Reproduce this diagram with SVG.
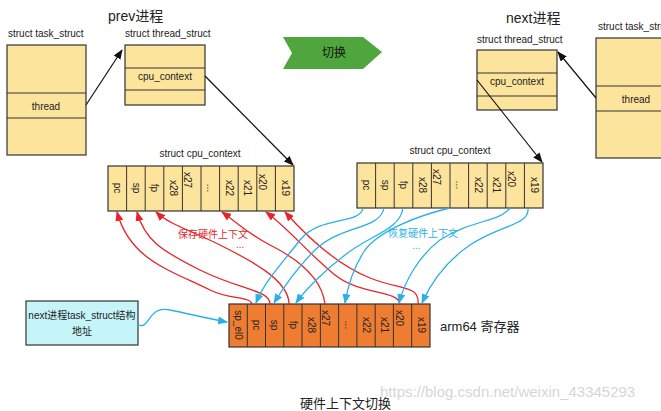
<svg xmlns="http://www.w3.org/2000/svg" width="661" height="411" viewBox="0 0 661 411">
<style>
text{font-family:"Liberation Sans","Noto Sans CJK SC",sans-serif;fill:#222}
.s{font-size:10px}
.box{fill:#fde49c;stroke:#333;stroke-width:1.2}
.reg{fill:#ee7d31;stroke:#333;stroke-width:1.2}
.blk{fill:none;stroke:#111;stroke-width:1.2}
.red{fill:none;stroke:#e8242a;stroke-width:1.3}
.blu{fill:none;stroke:#2ab0e6;stroke-width:1.3}
.v{font-size:10px}
</style>
<defs>
<marker id="ab" markerWidth="10" markerHeight="8" refX="9" refY="4" orient="auto" markerUnits="userSpaceOnUse"><path d="M0,0L10,4L0,8z" fill="#111"/></marker>
<marker id="ar" markerWidth="10" markerHeight="8" refX="9" refY="4" orient="auto" markerUnits="userSpaceOnUse"><path d="M0,0L10,4L0,8z" fill="#e8242a"/></marker>
<marker id="au" markerWidth="10" markerHeight="8" refX="9" refY="4" orient="auto" markerUnits="userSpaceOnUse"><path d="M0,0L10,4L0,8z" fill="#2ab0e6"/></marker>
</defs>
<rect width="661" height="411" fill="#fff"/>
<text x="108" y="21" font-size="14">prev进程</text>
<text x="506" y="23" font-size="14">next进程</text>
<g id="prev_task">
<text x="8" y="37" class="s">struct task_struct</text>
<rect x="7" y="45" width="79" height="110" class="box"/>
<line x1="7" y1="93" x2="86" y2="93" stroke="#333"/><line x1="7" y1="118" x2="86" y2="118" stroke="#333"/>
<text x="46" y="110" class="s" text-anchor="middle">thread</text>
</g>
<g id="prev_thread">
<text x="125" y="37" class="s">struct thread_struct</text>
<rect x="125" y="45" width="80" height="60" class="box"/>
<line x1="125" y1="68" x2="205" y2="68" stroke="#333"/><line x1="125" y1="90" x2="205" y2="90" stroke="#333"/>
<text x="165" y="80" class="s" text-anchor="middle">cpu_context</text>
</g>
<g id="switch">
<path d="M283,37H363L382,52L363,69H283L292,53z" fill="#4ea63d"/>
<text x="334" y="57" font-size="12" text-anchor="middle" style="fill:#111">切换</text>
</g>
<g id="next_thread">
<text x="477" y="43" class="s">struct thread_struct</text>
<rect x="477" y="50" width="80" height="60" class="box"/>
<line x1="477" y1="73" x2="557" y2="73" stroke="#333"/><line x1="477" y1="96" x2="557" y2="96" stroke="#333"/>
<text x="517" y="85" class="s" text-anchor="middle">cpu_context</text>
</g>
<g id="next_task">
<text x="598" y="30" class="s">struct task_struct</text>
<rect x="596" y="38" width="70" height="120" class="box"/>
<line x1="596" y1="86" x2="666" y2="86" stroke="#333"/><line x1="596" y1="111" x2="666" y2="111" stroke="#333"/>
<text x="636" y="103" class="s" text-anchor="middle">thread</text>
</g>
<g id="prev_ctx">
<text x="200" y="157" class="s" text-anchor="middle">struct cpu_context</text>
<rect x="108" y="166" width="186" height="45" class="box"/>
<g stroke="#333"><line x1="126.6" y1="166" x2="126.6" y2="211"/><line x1="145.2" y1="166" x2="145.2" y2="211"/><line x1="163.8" y1="166" x2="163.8" y2="211"/><line x1="182.4" y1="166" x2="182.4" y2="211"/><line x1="201" y1="166" x2="201" y2="211"/><line x1="219.6" y1="166" x2="219.6" y2="211"/><line x1="238.2" y1="166" x2="238.2" y2="211"/><line x1="256.8" y1="166" x2="256.8" y2="211"/><line x1="275.4" y1="166" x2="275.4" y2="211"/></g>
<g class="v">
<text transform="translate(114,188) rotate(90)" text-anchor="middle">pc</text>
<text transform="translate(133,188) rotate(90)" text-anchor="middle">sp</text>
<text transform="translate(151,188) rotate(90)" text-anchor="middle">fp</text>
<text transform="translate(170,188) rotate(90)" text-anchor="middle">x28</text>
<text transform="translate(184,180) rotate(90)" text-anchor="middle">x27</text>
<text transform="translate(207,188) rotate(90)" text-anchor="middle">...</text>
<text transform="translate(226,188) rotate(90)" text-anchor="middle">x22</text>
<text transform="translate(244,188) rotate(90)" text-anchor="middle">x21</text>
<text transform="translate(259,182) rotate(90)" text-anchor="middle">x20</text>
<text transform="translate(282,188) rotate(90)" text-anchor="middle">x19</text>
</g>
</g>
<g id="next_ctx">
<text x="450" y="154" class="s" text-anchor="middle">struct cpu_context</text>
<rect x="357" y="163" width="186" height="45" class="box"/>
<g stroke="#333"><line x1="375.6" y1="163" x2="375.6" y2="208"/><line x1="394.2" y1="163" x2="394.2" y2="208"/><line x1="412.8" y1="163" x2="412.8" y2="208"/><line x1="431.4" y1="163" x2="431.4" y2="208"/><line x1="450" y1="163" x2="450" y2="208"/><line x1="468.6" y1="163" x2="468.6" y2="208"/><line x1="487.2" y1="163" x2="487.2" y2="208"/><line x1="505.8" y1="163" x2="505.8" y2="208"/><line x1="524.4" y1="163" x2="524.4" y2="208"/></g>
<g class="v">
<text transform="translate(363,185) rotate(90)" text-anchor="middle">pc</text>
<text transform="translate(382,185) rotate(90)" text-anchor="middle">sp</text>
<text transform="translate(400,185) rotate(90)" text-anchor="middle">fp</text>
<text transform="translate(419,185) rotate(90)" text-anchor="middle">x28</text>
<text transform="translate(433,177) rotate(90)" text-anchor="middle">x27</text>
<text transform="translate(456,185) rotate(90)" text-anchor="middle">...</text>
<text transform="translate(475,185) rotate(90)" text-anchor="middle">x22</text>
<text transform="translate(493,185) rotate(90)" text-anchor="middle">x21</text>
<text transform="translate(508,179) rotate(90)" text-anchor="middle">x20</text>
<text transform="translate(531,185) rotate(90)" text-anchor="middle">x19</text>
</g>
</g>
<g id="regs">
<rect x="229" y="304" width="201" height="43" class="reg"/>
<g stroke="#333"><line x1="247.3" y1="304" x2="247.3" y2="347"/><line x1="265.5" y1="304" x2="265.5" y2="347"/><line x1="283.8" y1="304" x2="283.8" y2="347"/><line x1="302" y1="304" x2="302" y2="347"/><line x1="320.4" y1="304" x2="320.4" y2="347"/><line x1="338.6" y1="304" x2="338.6" y2="347"/><line x1="356.9" y1="304" x2="356.9" y2="347"/><line x1="375.2" y1="304" x2="375.2" y2="347"/><line x1="393.4" y1="304" x2="393.4" y2="347"/><line x1="411.7" y1="304" x2="411.7" y2="347"/></g>
<g class="v">
<text transform="translate(235,325) rotate(90)" text-anchor="middle">sp_el0</text>
<text transform="translate(253,325) rotate(90)" text-anchor="middle">pc</text>
<text transform="translate(271,325) rotate(90)" text-anchor="middle">sp</text>
<text transform="translate(290,325) rotate(90)" text-anchor="middle">fp</text>
<text transform="translate(308,325) rotate(90)" text-anchor="middle">x28</text>
<text transform="translate(322,318) rotate(90)" text-anchor="middle">x27</text>
<text transform="translate(345,325) rotate(90)" text-anchor="middle">...</text>
<text transform="translate(363,325) rotate(90)" text-anchor="middle">x22</text>
<text transform="translate(381,325) rotate(90)" text-anchor="middle">x21</text>
<text transform="translate(396,318) rotate(90)" text-anchor="middle">x20</text>
<text transform="translate(418,325) rotate(90)" text-anchor="middle">x19</text>
</g>
<text x="440" y="331" font-size="13">arm64 寄存器</text>
</g>
<g id="addr">
<rect x="26" y="301" width="112" height="44" fill="#c6f5f9" stroke="#333" stroke-width="1.2"/>
<text x="82" y="319" class="s" text-anchor="middle">next进程task_struct结构</text>
<text x="82" y="335" class="s" text-anchor="middle">地址</text>
</g>
<g id="connectors">
<line x1="86" y1="105" x2="122" y2="50" class="blk" marker-end="url(#ab)"/>
<line x1="205" y1="76" x2="293" y2="165" class="blk" marker-end="url(#ab)"/>
<line x1="596" y1="98" x2="558" y2="52" class="blk" marker-end="url(#ab)"/>
<line x1="477" y1="80" x2="542" y2="162" class="blk" marker-end="url(#ab)"/>
<path d="M138,325C150,330 148,305 170,310C190,314 205,318 227,322" class="blu" marker-end="url(#au)"/>
<path d="M252,304C250,296 230,300 210,290C170,270 130,260 117,212" class="red" marker-end="url(#ar)"/>
<path d="M270,304C270,290 240,290 200,270C160,250 145,240 137,212" class="red" marker-end="url(#ar)"/>
<path d="M289,304C289,280 250,260 220,245C190,230 170,225 156,212" class="red" marker-end="url(#ar)"/>
<path d="M325,304C322,280 300,260 270,245C250,235 240,225 222,212" class="red" marker-end="url(#ar)"/>
<path d="M400,304C398,290 360,295 335,275C310,255 290,230 266,212" class="red" marker-end="url(#ar)"/>
<path d="M418,304C420,285 400,290 370,278C340,266 310,240 285,212" class="red" marker-end="url(#ar)"/>
<path d="M363,208C360,225 320,215 300,240C285,260 265,280 256,303" class="blu" marker-end="url(#au)"/>
<path d="M384,208C380,230 340,225 315,250C300,265 285,285 274,303" class="blu" marker-end="url(#au)"/>
<path d="M403,208C400,230 370,235 345,255C325,270 305,290 296,303" class="blu" marker-end="url(#au)"/>
<path d="M450,208C420,215 380,230 365,250C355,265 348,285 345,303" class="blu" marker-end="url(#au)"/>
<path d="M510,208C500,222 470,220 440,240C420,255 405,280 399,303" class="blu" marker-end="url(#au)"/>
<path d="M528,208C530,225 500,225 470,245C445,262 430,285 422,303" class="blu" marker-end="url(#au)"/>
</g>
<text x="178" y="238" font-size="10" style="fill:#e8242a">保存硬件上下文</text>
<text x="236" y="248" font-size="10" style="fill:#e8242a">...</text>
<text x="388" y="237" font-size="10" style="fill:#2ab0e6">恢复硬件上下文</text>
<text x="412" y="249" font-size="10" style="fill:#2ab0e6">...</text>
<text x="300" y="408" font-size="13">硬件上下文切换</text>
<text x="380" y="397" font-size="15" style="fill:#d6d6d6">https://blog.csdn.net/weixin_43345293</text>
</svg>
